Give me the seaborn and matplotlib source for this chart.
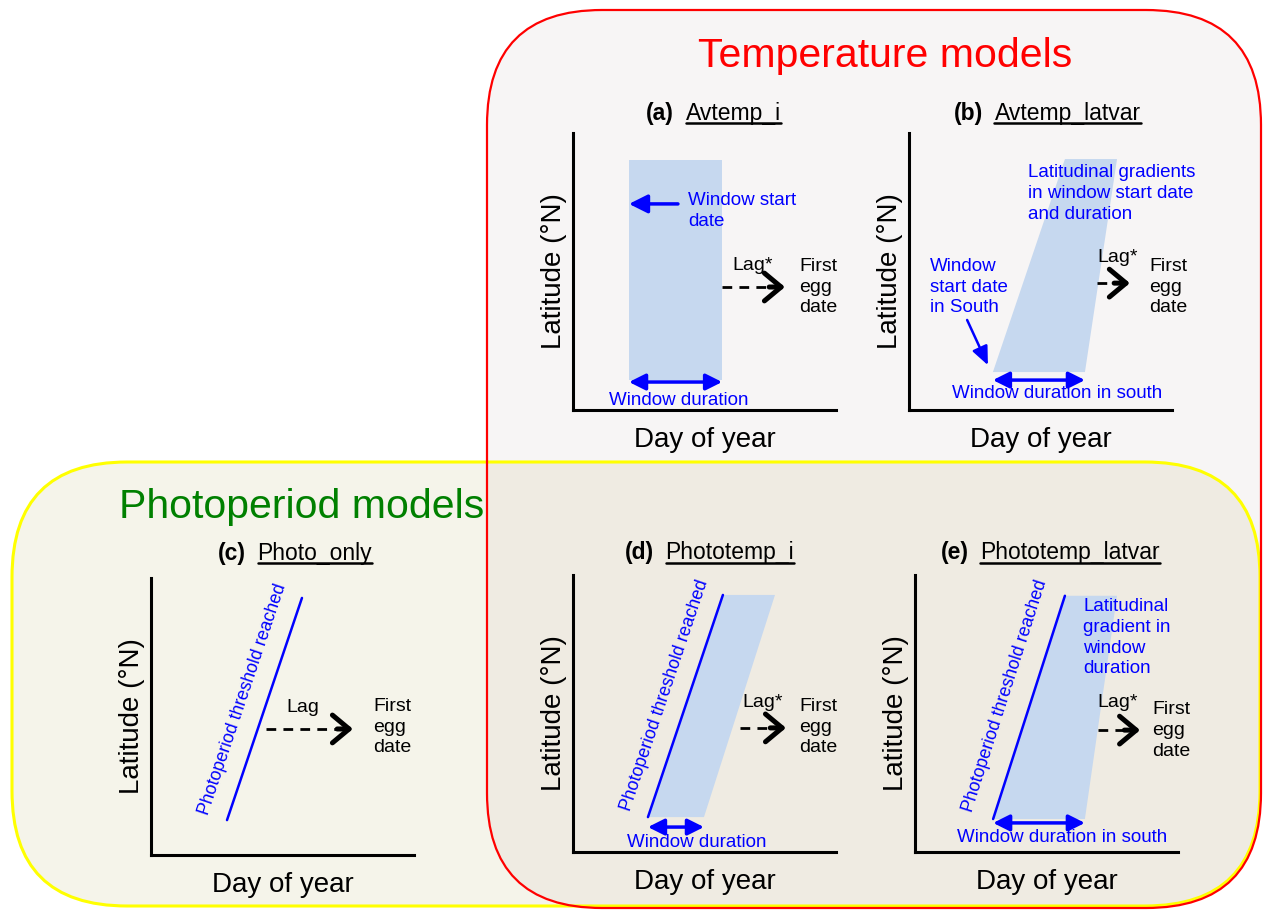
import numpy as np
import pandas as pd
import seaborn as sns
import matplotlib.pyplot as plt
from matplotlib.patches import FancyBboxPatch
from matplotlib.lines import Line2D

# Conceptual shapes on a 0-100 scale (x = day of year, y = latitude)
win_a_day = [21.3, 56.7, 56.7, 21.3]
win_a_lat = [10.8, 10.8, 90.3, 90.3]

win_b_day = [31.9, 66.9, 79.1, 59.3]
win_b_lat = [13.7, 13.7, 90.6, 90.6]

photo_c_day = [28.9, 57.4]
photo_c_lat = [12.6, 92.8]

win_d_day = [28.5, 49.8, 76.8, 57.0]
win_d_lat = [12.6, 12.6, 92.8, 92.8]
photo_d_day = [28.5, 57.0]
photo_d_lat = [12.6, 92.8]

win_e_day = [29.7, 64.6, 76.8, 57.0]
win_e_lat = [11.9, 11.9, 92.5, 92.5]
photo_e_day = [29.7, 57.0]
photo_e_lat = [11.9, 92.5]

# lag arrows: (start day, end day, latitude)
lag_a = [56.7, 80.6, 44.4]
lag_b = [71.5, 84.0, 45.8]
lag_c = [43.7, 76.8, 45.5]
lag_d = [63.5, 81.0, 44.8]
lag_e = [69.6, 85.6, 44.0]

panel_tags = ['(a)', '(b)', '(c)', '(d)', '(e)']
panel_names = ['Avtemp_i', 'Avtemp_latvar', 'Photo_only', 'Phototemp_i', 'Phototemp_latvar']

W, H = 1266, 910
AX_W, AX_H = 263, 277
WIN = '#c6d8ef'
BLUE = '#0000ff'
SMALL = 13.5
LS = 1.3

sns.set_theme(style='white')
plt.rcParams['font.family'] = ['Liberation Sans', 'DejaVu Sans']
plt.rcParams['text.color'] = 'black'
plt.rcParams['axes.labelcolor'] = 'black'

fig = plt.figure(figsize=(W / 100, H / 100), dpi=100)

# background boxes, drawn in pixel coordinates
bg = fig.add_axes([0, 0, 1, 1])
bg.set_xlim(0, W)
bg.set_ylim(H, 0)
bg.axis('off')

box_style = 'round,pad=0,rounding_size=115'
red_box = FancyBboxPatch((487, 10), 774, 898, boxstyle=box_style, fc='#f7f5f5', ec='none', zorder=1)
yel_box = FancyBboxPatch((12, 462), 1248, 444, boxstyle=box_style, fc='#f5f4ea', ec='none', zorder=1.1)
bg.add_patch(red_box)
bg.add_patch(yel_box)
overlap = FancyBboxPatch((487, 10), 774, 898, boxstyle=box_style, fc='#efebe2', ec='none', zorder=1.2)
bg.add_patch(overlap)
overlap.set_clip_path(yel_box)

bg.text(885, 56, 'Temperature models', color='#ff0000', fontsize=29.5,
        ha='center', va='center', zorder=2)
bg.text(302, 507, 'Photoperiod models', color='#008000', fontsize=29.5,
        ha='center', va='center', zorder=2)

bg.add_patch(FancyBboxPatch((12, 462), 1248, 444, boxstyle=box_style,
                            fc='none', ec='#ffff00', lw=2.2, zorder=3))
bg.add_patch(FancyBboxPatch((487, 10), 774, 898, boxstyle=box_style,
                            fc='none', ec='#ff0000', lw=1.6, zorder=4))


def make_panel(px_left, px_bottom):
    ax = fig.add_axes([px_left / W, 1 - px_bottom / H, AX_W / W, AX_H / H])
    ax.set_xlim(0, 100)
    ax.set_ylim(0, 100)
    ax.patch.set_alpha(0)
    sns.despine(ax=ax)
    for s in ['left', 'bottom']:
        ax.spines[s].set_linewidth(2.2)
        ax.spines[s].set_color('black')
    ax.set_xticks([])
    ax.set_yticks([])
    ax.set_xlabel('Day of year', fontsize=20, labelpad=12)
    ax.set_ylabel('Latitude (°N)', fontsize=20, labelpad=4)
    return ax


def add_title(ax, i, x_split, y):
    ax.text(x_split - 0.005, y, panel_tags[i], transform=ax.transAxes, fontsize=16.5,
            fontweight='bold', ha='right', va='center')
    t = ax.text(x_split + 0.04, y, panel_names[i], transform=ax.transAxes, fontsize=16.5,
                ha='left', va='center')
    return t


def window(ax, days, lats):
    ax.fill(days, lats, color=WIN, lw=0, zorder=1)


def photo_line(ax, days, lats, tx, ty):
    sns.lineplot(x=days, y=lats, ax=ax, color=BLUE, lw=1.8, sort=False, zorder=3)
    p = ax.transData.transform(np.column_stack([days, lats]))
    ang = np.degrees(np.arctan2(p[1, 1] - p[0, 1], p[1, 0] - p[0, 0]))
    ax.text(tx, ty, 'Photoperiod threshold reached', color=BLUE, fontsize=12.8,
            rotation=ang, rotation_mode='anchor', ha='center', va='center')


def duration(ax, x0, x1, y, label, lx, ly):
    ax.annotate('', xy=(x1, y), xytext=(x0, y),
                arrowprops=dict(arrowstyle='<|-|>,head_length=0.7,head_width=0.35',
                                color=BLUE, lw=2.5, shrinkA=0, shrinkB=0,
                                mutation_scale=14))
    ax.text(lx, ly, label, color=BLUE, fontsize=SMALL, ha='center', va='center')


def lag(ax, vals, label, lx, ly, ex, ey):
    x0, x1, y = vals
    ax.plot([x0, x1 - 2], [y, y], color='black', lw=2, ls=(0, (3.5, 2.6)))
    ax.annotate('', xy=(x1, y), xytext=(x1 - 6, y),
                arrowprops=dict(arrowstyle='->,head_length=0.6,head_width=0.5',
                                color='black', lw=3.6, shrinkA=0, shrinkB=0,
                                mutation_scale=20))
    ax.text(lx, ly, label, fontsize=14, ha='center', va='center')
    ax.text(ex, ey, 'First\negg\ndate', fontsize=14, ha='left', va='center', linespacing=LS)


titles = []

# (a)
ax = make_panel(573, 410)
window(ax, win_a_day, win_a_lat)
ax.annotate('', xy=(win_a_day[0], 74.4), xytext=(39.9, 74.4),
            arrowprops=dict(arrowstyle='-|>,head_length=0.8,head_width=0.4',
                            color=BLUE, lw=2.5, shrinkA=0, shrinkB=0, mutation_scale=14))
ax.text(43.7, 71.8, 'Window start\ndate', color=BLUE, fontsize=SMALL, ha='left',
        va='center', linespacing=LS)
duration(ax, win_a_day[0], win_a_day[1], 10.1, 'Window duration', 40.3, 3.6)
lag(ax, lag_a, 'Lag*', 68.4, 52.0, 85.9, 44.4)
titles.append(add_title(ax, 0, 0.388, 1.072))

# (b)
ax = make_panel(909, 410)
window(ax, win_b_day, win_b_lat)
ax.text(45.2, 78.3, 'Latitudinal gradients\nin window start date\nand duration',
        color=BLUE, fontsize=SMALL, ha='left', va='center', linespacing=LS)
ax.text(8.0, 44.4, 'Window\nstart date\nin South', color=BLUE, fontsize=SMALL,
        ha='left', va='center', linespacing=LS)
ax.annotate('', xy=(30.0, 16.2), xytext=(22.1, 32.5),
            arrowprops=dict(arrowstyle='-|>,head_length=0.8,head_width=0.35',
                            color=BLUE, lw=1.8, shrinkA=0, shrinkB=0, mutation_scale=14))
duration(ax, win_b_day[0], win_b_day[1], 10.8, 'Window duration in south', 56.3, 6.1)
lag(ax, lag_b, 'Lag*', 79.5, 54.9, 91.3, 44.4)
titles.append(add_title(ax, 1, 0.285, 1.072))

# (c)
ax = make_panel(151, 855)
photo_line(ax, photo_c_day, photo_c_lat, 34.8, 56.3)
lag(ax, lag_c, 'Lag', 57.8, 53.4, 84.4, 46.2)
titles.append(add_title(ax, 2, 0.365, 1.09))

# (d)
ax = make_panel(573, 852)
window(ax, win_d_day, win_d_lat)
photo_line(ax, photo_d_day, photo_d_lat, 34.8, 56.7)
duration(ax, win_d_day[0], win_d_day[1], 9.0, 'Window duration', 47.1, 3.6)
lag(ax, lag_d, 'Lag*', 72.2, 53.8, 85.9, 45.1)
titles.append(add_title(ax, 3, 0.312, 1.08))

# (e)
ax = make_panel(915, 852)
window(ax, win_e_day, win_e_lat)
photo_line(ax, photo_e_day, photo_e_lat, 34.4, 56.3)
ax.text(63.9, 77.4, 'Latitudinal\ngradient in\nwindow\nduration', color=BLUE,
        fontsize=SMALL, ha='left', va='center', linespacing=LS)
duration(ax, win_e_day[0], win_e_day[1], 10.5, 'Window duration in south', 55.9, 5.4)
lag(ax, lag_e, 'Lag*', 77.2, 53.8, 90.1, 44.0)
titles.append(add_title(ax, 4, 0.209, 1.08))

# underline the model names
fig.canvas.draw()
r = fig.canvas.get_renderer()
for t in titles:
    bb = t.get_window_extent(r)
    y = (bb.y0 + 1.8) / H
    fig.add_artist(Line2D([bb.x0 / W, bb.x1 / W], [y, y], color='black', lw=1.8,
                          transform=fig.transFigure))

fig.savefig('out.png', dpi=100)
